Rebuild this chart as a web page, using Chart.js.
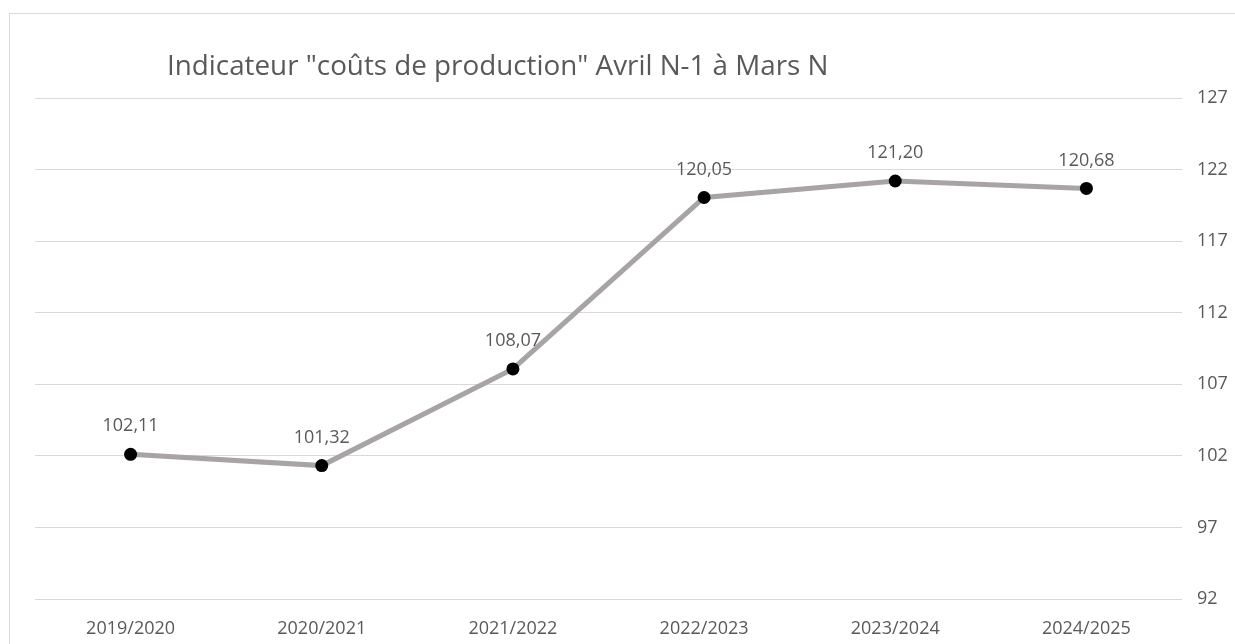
<!DOCTYPE html>
<html>
<head>
<meta charset="utf-8">
<script src="https://cdn.jsdelivr.net/npm/chart.js@4/dist/chart.umd.min.js"></script>
<style>
  html, body { margin: 0; padding: 0; background: #fff; overflow: hidden; }
  #frame { position: absolute; left: 9px; top: 13px; width: 1240px; height: 660px; border: 1px solid #d9d9d9; box-sizing: border-box; }
  #wrap { position: absolute; left: 0; top: 0; width: 1235px; height: 644px; }
</style>
</head>
<body>
<div id="frame"></div>
<div id="wrap"><canvas id="chart"></canvas></div>
<script>
// Chart data
const titleText = 'Indicateur "coûts de production" Avril N-1 à Mars N';
const campaigns = ['2019/2020', '2020/2021', '2021/2022', '2022/2023', '2023/2024', '2024/2025'];
const costIndex = [102.11, 101.32, 108.07, 120.05, 121.20, 120.68];
const yMin = 92;
const yMax = 127;
const yStep = 5;

const textColor = '#595959';
const fontFamily = '"Open Sans", "Noto Sans", sans-serif';

// title drawn at its own place, left-ish like the original
const titlePlugin = {
  id: 'leftTitle',
  afterDraw(chart) {
    const ctx = chart.ctx;
    ctx.save();
    ctx.font = '27.8px ' + fontFamily;
    ctx.fillStyle = textColor;
    ctx.textAlign = 'left';
    ctx.textBaseline = 'alphabetic';
    ctx.fillText(titleText, 167, 75);
    ctx.restore();
  }
};

// value labels above each point, French decimal comma
const valueLabels = {
  id: 'valueLabels',
  afterDatasetsDraw(chart) {
    const ctx = chart.ctx;
    const meta = chart.getDatasetMeta(0);
    ctx.save();
    ctx.font = '18px ' + fontFamily;
    ctx.fillStyle = textColor;
    ctx.textAlign = 'center';
    ctx.textBaseline = 'middle';
    meta.data.forEach((pt, i) => {
      const txt = costIndex[i].toFixed(2).replace('.', ',');
      ctx.fillText(txt, pt.x, pt.y - 28);
    });
    ctx.restore();
  }
};

new Chart(document.getElementById('chart'), {
  type: 'line',
  data: {
    labels: campaigns,
    datasets: [{
      data: costIndex,
      borderColor: '#a8a4a5',
      borderWidth: 5,
      tension: 0,
      pointRadius: 6.5,
      pointBackgroundColor: '#000',
      pointBorderColor: '#000',
      pointBorderWidth: 0,
    }],
  },
  options: {
    responsive: true,
    maintainAspectRatio: false,
    animation: false,
    layout: { padding: { left: 35, top: 98, right: 0, bottom: 0 } },
    plugins: {
      legend: { display: false },
      tooltip: { enabled: false },
    },
    scales: {
      x: {
        offset: true,
        grid: { display: false, drawTicks: false },
        border: { display: false },
        ticks: { color: textColor, font: { family: fontFamily, size: 18 }, padding: 19, maxRotation: 0 },
        afterFit: s => { s.height = 45; },
      },
      y: {
        position: 'right',
        min: yMin,
        max: yMax,
        grid: { color: '#d9d9d9', lineWidth: 1, drawTicks: false },
        border: { display: false },
        ticks: { stepSize: yStep, color: textColor, font: { family: fontFamily, size: 18 }, padding: 15 },
        afterFit: s => { s.width = 53; },
      },
    },
  },
  plugins: [titlePlugin, valueLabels],
});
</script>
</body>
</html>
